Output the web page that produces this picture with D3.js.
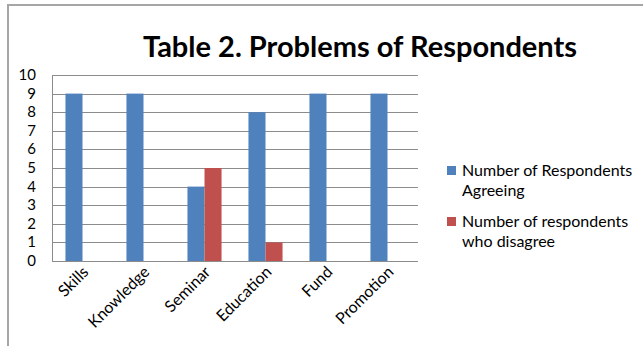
<!DOCTYPE html>
<html>
<head>
<meta charset="utf-8">
<script src="https://cdn.jsdelivr.net/npm/d3@7"></script>
<style>
  body { margin: 0; background: #fff; }
  svg { display: block; font-family: Lato, "Open Sans", sans-serif; }
</style>
</head>
<body>
<svg id="chart" width="643" height="346"></svg>
<script>
// data
var categories = ["Skills", "Knowledge", "Seminar", "Education", "Fund", "Promotion"];
var agreeing = [9, 9, 4, 8, 9, 9];
var disagree = [0, 0, 5, 1, 0, 0];
var seriesLines = [["Number of Respondents", "Agreeing"], ["Number of respondents", "who disagree"]];
var yTicks = [0, 1, 2, 3, 4, 5, 6, 7, 8, 9, 10];
var colors = ["#4f81bd", "#c0504d"];

var svg = d3.select("#chart");

// outer frame (top + left only, picture is cropped)
svg.append("path")
    .attr("d", "M8,643 L8,5 L643,5")
    .attr("fill", "none")
    .attr("stroke", "#a6a6a6")
    .attr("stroke-width", 2);

// title
svg.append("text")
    .attr("x", 360)
    .attr("y", 57)
    .attr("text-anchor", "middle")
    .attr("font-size", "29px")
    .attr("font-weight", "bold")
    .attr("fill", "#000")
    .text("Table 2. Problems of Respondents");

var plot = {left: 52, top: 75, right: 418, bottom: 261};

var x = d3.scaleBand()
    .domain(categories)
    .range([plot.left, plot.right]);

// two bars of ~17px each, sitting side by side around the band centre
var xs = d3.scaleBand()
    .domain([0, 1])
    .range([0, x.bandwidth()])
    .paddingOuter(0.79)
    .paddingInner(0);

var y = d3.scaleLinear()
    .domain([0, 10])
    .range([plot.bottom, plot.top]);

// gridlines
svg.append("g")
    .selectAll("line")
    .data(yTicks)
    .enter()
    .append("line")
    .attr("x1", plot.left)
    .attr("x2", plot.right)
    .attr("y1", function(d) { return Math.round(y(d)) + 0.5; })
    .attr("y2", function(d) { return Math.round(y(d)) + 0.5; })
    .attr("stroke", "#8c8c8c")
    .attr("stroke-width", 1);

// y axis line
svg.append("line")
    .attr("x1", plot.left + 0.5)
    .attr("x2", plot.left + 0.5)
    .attr("y1", plot.top)
    .attr("y2", plot.bottom)
    .attr("stroke", "#8c8c8c");

// y tick labels
svg.append("g")
    .selectAll("text")
    .data(yTicks)
    .enter()
    .append("text")
    .attr("x", 36)
    .attr("y", function(d) { return y(d) + 5; })
    .attr("text-anchor", "end")
    .attr("font-size", "15px")
    .attr("fill", "#000")
    .text(function(d) { return d; });

// bars
var series = [agreeing, disagree];
series.forEach(function(vals, s) {
    svg.append("g")
        .selectAll("rect")
        .data(categories)
        .enter()
        .append("rect")
        .attr("x", function(d) { return x(d) + xs(s); })
        .attr("width", xs.bandwidth())
        .attr("y", function(d, i) { return y(vals[i]); })
        .attr("height", function(d, i) { return y(0) - y(vals[i]); })
        .attr("fill", colors[s]);
});

// x labels, rotated
svg.append("g")
    .selectAll("text")
    .data(categories)
    .enter()
    .append("text")
    .attr("transform", function(d) {
        return "translate(" + (x(d) + x.bandwidth() / 2 + 7) + "," + 273 + ") rotate(-45)";
    })
    .attr("text-anchor", "end")
    .attr("font-size", "16px")
    .attr("fill", "#000")
    .text(function(d) { return d; });

// legend
var legend = svg.append("g");
seriesLines.forEach(function(lines, i) {
    var ly = 166 + i * 51;
    legend.append("rect")
        .attr("x", 447)
        .attr("y", ly)
        .attr("width", 9)
        .attr("height", 9)
        .attr("fill", colors[i]);
    legend.append("text")
        .attr("x", 462)
        .attr("y", ly + 10)
        .attr("font-size", "16px")
        .attr("fill", "#000")
        .selectAll("tspan")
        .data(lines)
        .enter()
        .append("tspan")
        .attr("x", 462)
        .attr("dy", function(d, j) { return j === 0 ? 0 : 20; })
        .text(function(d) { return d; });
});
</script>
</body>
</html>
